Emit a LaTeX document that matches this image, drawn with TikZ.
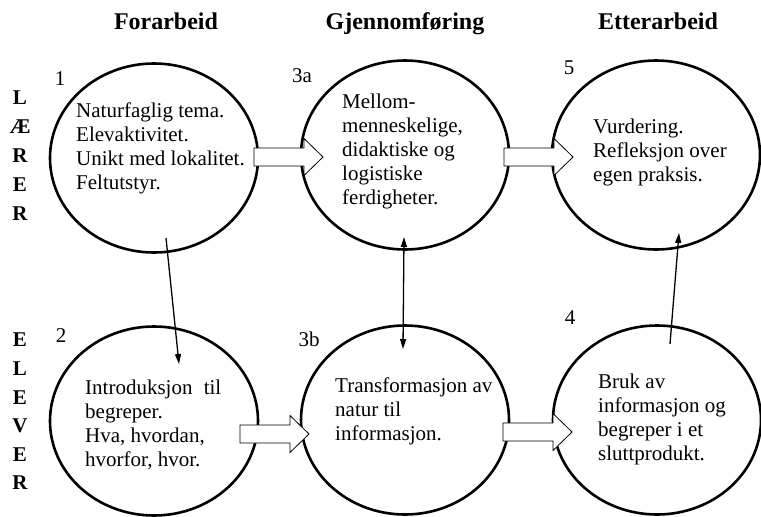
\documentclass[tikz,border=0pt]{standalone}
\usepackage{fontspec}
\setmainfont{Liberation Serif}
\usetikzlibrary{shapes.geometric,arrows.meta}

\newcommand{\bodyfont}{\fontsize{21}{24}\selectfont}
\newcommand{\headfont}{\fontsize{24}{28}\selectfont\bfseries}
\newcommand{\sidefont}{\fontsize{21}{24}\selectfont\bfseries}

\tikzset{
  x=1pt, y=-1pt,
  phase/.style={ellipse, draw, line width=2.6pt, minimum width=208pt,
    minimum height=189pt, inner sep=0pt},
  body/.style={anchor=north west, inner sep=0pt, align=left, font=\bodyfont},
  stepno/.style={inner sep=0pt, font=\bodyfont},
  header/.style={anchor=base, inner sep=0pt, font=\headfont},
  side/.style={inner sep=0pt, font=\sidefont},
  link/.style={line width=1.3pt, -{Triangle[length=10pt,width=6pt]}},
  twolink/.style={line width=1.3pt, {Triangle[length=10pt,width=6pt]}-{Triangle[length=10pt,width=6pt]}},
  fatarrow/.pic={
    \draw[fill=white, line width=0.8pt]
      (-69,-9) -- (-19,-9) -- (-19,-18.5) -- (0,0) -- (-19,18.5) -- (-19,9)
      -- (-69,9) -- cycle;
  }
}

\begin{document}
\begin{tikzpicture}
  \useasboundingbox[fill=white] (0,0) rectangle (761,517);

  % column headings
  \node[header] (hforarbeid) at (166,29) {Forarbeid};
  \node[header] (hgjennom) at (405,29) {Gjennomføring};
  \node[header] (hetter) at (658,29) {Etterarbeid};

  % row labels, one letter per line
  \foreach \ch [count=\i] in {L,Æ,R,E,R}
    \node[side] (laerer\i) at (20,{98+(\i-1)*28.8}) {\ch};
  \foreach \ch [count=\i] in {E,L,E,V,E,R}
    \node[side] (elever\i) at (20,{340+(\i-1)*28.6}) {\ch};

  % the six phases
  \node[phase] (c1)  at (154,158) {};
  \node[phase] (c3a) at (405,155) {};
  \node[phase] (c5)  at (656,155) {};
  \node[phase] (c2)  at (154,421) {};
  \node[phase] (c3b) at (405,420) {};
  \node[phase] (c4)  at (657,420) {};

  % step numbers
  \node[stepno] (n1)  at (60,79)  {1};
  \node[stepno] (n3a) at (302,76) {3a};
  \node[stepno] (n5)  at (569,68) {5};
  \node[stepno] (n2)  at (61,336) {2};
  \node[stepno] (n3b) at (309,339) {3b};
  \node[stepno] (n4)  at (570,318) {4};

  % texts inside the phases
  \node[body] (t1) at (76,100) {\strut Naturfaglig tema.\\\strut Elevaktivitet.\\\strut Unikt med lokalitet.\\\strut Feltutstyr.};
  \node[body] (t3a) at (342,91) {\strut Mellom-\\\strut menneskelige,\\\strut didaktiske og\\\strut logistiske\\\strut ferdigheter.};
  \node[body] (t5) at (593,116) {\strut Vurdering.\\\strut Refleksjon over\\\strut egen praksis.};
  \node[body] (t2) at (85,377) {\strut Introduksjon\hspace{6pt} til\\\strut begreper.\\\strut Hva, hvordan,\\\strut hvorfor, hvor.};
  \node[body] (t3b) at (335,375) {\strut Transformasjon av\\\strut natur til\\\strut informasjon.};
  \node[body] (t4) at (598,371) {\strut Bruk av\\\strut informasjon og\\\strut begreper i et\\\strut sluttprodukt.};

  % broad arrows between the phases of a row
  \pic at (323,157) {fatarrow};
  \pic at (573,157) {fatarrow};
  \pic at (309,434) {fatarrow};
  \pic at (572,432) {fatarrow};

  % thin arrows between the rows
  \coordinate (a1) at (166,238);
  \coordinate (a2) at (179,364);
  \coordinate (b1) at (404,237);
  \coordinate (b2) at (403,349);
  \coordinate (d1) at (670,344);
  \coordinate (d2) at (679,233);
  \draw[link] (a1) -- (a2);
  \draw[twolink] (b1) -- (b2);
  \draw[link] (d1) -- (d2);
\end{tikzpicture}
\end{document}
